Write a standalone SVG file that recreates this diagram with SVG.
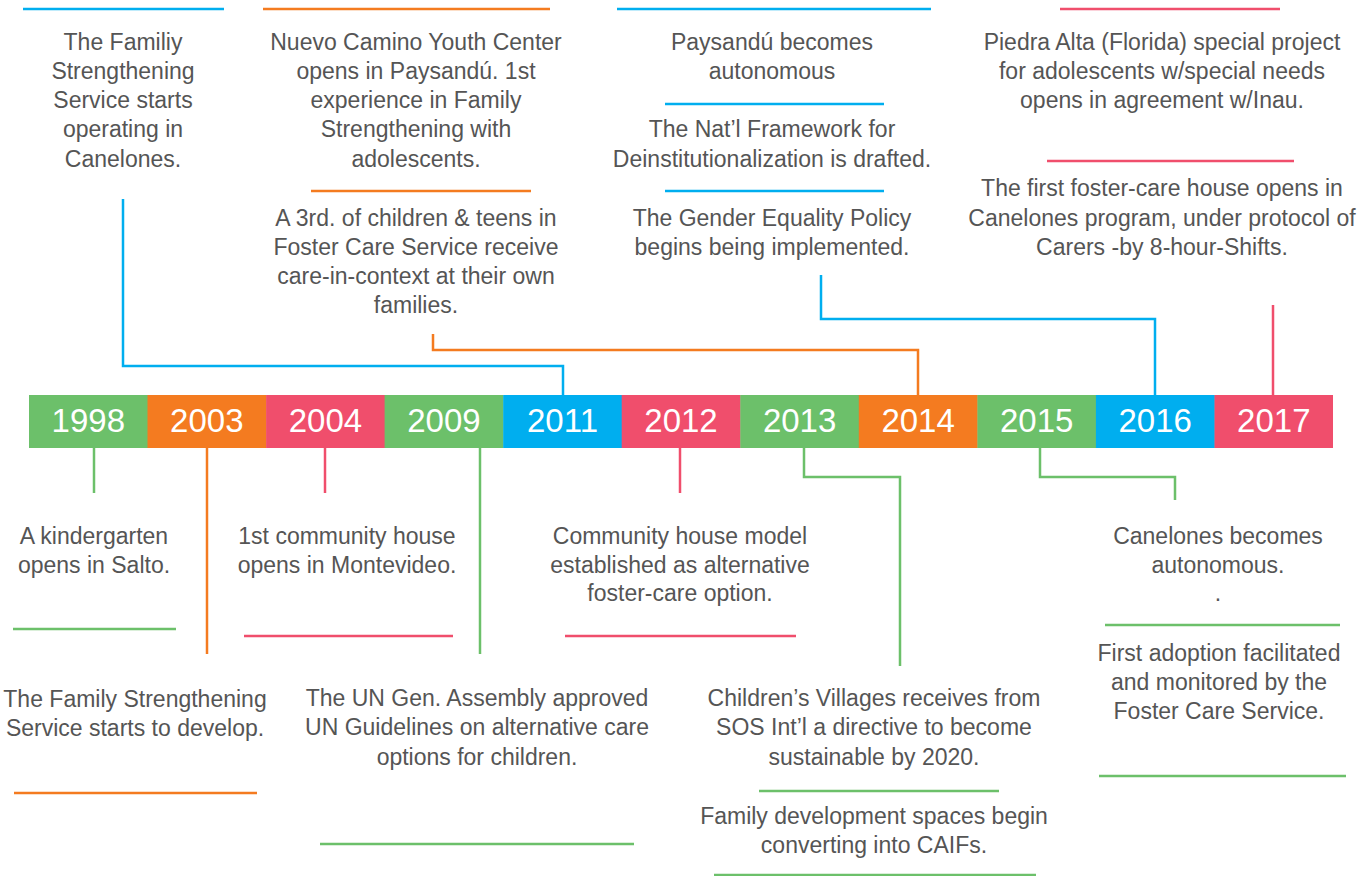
<svg xmlns="http://www.w3.org/2000/svg" width="1360" height="876" viewBox="0 0 1360 876">
  <style>
    .txt { font-family: "Liberation Sans", Arial, sans-serif; font-size: 23px; fill: #555555; text-anchor: middle; }
    .yr { font-family: "Liberation Sans", Arial, sans-serif; font-size: 33px; fill: #ffffff; text-anchor: middle; }
    .sep, .con { fill: none; stroke-width: 2.5; }
    .g { stroke: #6cc06a; fill: none; }
    .o { stroke: #f47b20; fill: none; }
    .p { stroke: #f04e6c; fill: none; }
    .b { stroke: #00aeef; fill: none; }
    .fg { fill: #6cc06a; }
    .fo { fill: #f47b20; }
    .fp { fill: #f04e6c; }
    .fb { fill: #00aeef; }
  </style>
  <rect width="1360" height="876" fill="#ffffff"/>

  <!-- year bar -->
  <g id="yearbar">
    <rect class="fg" x="29" y="395" width="119" height="53"/>
    <rect class="fo" x="147.5" y="395" width="119" height="53"/>
    <rect class="fp" x="266.1" y="395" width="119" height="53"/>
    <rect class="fg" x="384.6" y="395" width="119" height="53"/>
    <rect class="fb" x="503.2" y="395" width="119" height="53"/>
    <rect class="fp" x="621.7" y="395" width="119" height="53"/>
    <rect class="fg" x="740.3" y="395" width="119" height="53"/>
    <rect class="fo" x="858.8" y="395" width="119" height="53"/>
    <rect class="fg" x="977.4" y="395" width="119" height="53"/>
    <rect class="fb" x="1095.9" y="395" width="119" height="53"/>
    <rect class="fp" x="1214.5" y="395" width="118.5" height="53"/>
    <text class="yr" x="88.3" y="432">1998</text>
    <text class="yr" x="206.8" y="432">2003</text>
    <text class="yr" x="325.4" y="432">2004</text>
    <text class="yr" x="443.9" y="432">2009</text>
    <text class="yr" x="562.5" y="432">2011</text>
    <text class="yr" x="681" y="432">2012</text>
    <text class="yr" x="799.6" y="432">2013</text>
    <text class="yr" x="918.1" y="432">2014</text>
    <text class="yr" x="1036.7" y="432">2015</text>
    <text class="yr" x="1155.2" y="432">2016</text>
    <text class="yr" x="1273.8" y="432">2017</text>
  </g>

  <!-- connectors from years to events -->
  <g id="connectors" class="con">
    <polyline class="b" stroke-width="2.5" points="123,199 123,366 563,366 563,395"/>
    <polyline class="o" stroke-width="2.5" points="433,334 433,350 918,350 918,395"/>
    <polyline class="b" stroke-width="2.5" points="821,275 821,319 1155,319 1155,395"/>
    <polyline class="p" stroke-width="2.5" points="1273,305 1273,395"/>
    <polyline class="g" stroke-width="2.5" points="94,448 94,493"/>
    <polyline class="o" stroke-width="2.5" points="207,448 207,654"/>
    <polyline class="p" stroke-width="2.5" points="325,448 325,493"/>
    <polyline class="g" stroke-width="2.5" points="480,448 480,654"/>
    <polyline class="p" stroke-width="2.5" points="680,448 680,493"/>
    <polyline class="g" stroke-width="2.5" points="804,448 804,477 900,477 900,666"/>
    <polyline class="g" stroke-width="2.5" points="1040,448 1040,477 1175,477 1175,500"/>
  </g>

  <!-- events above the bar -->
  <g id="ev-2011-family-strengthening">
    <line class="b" stroke-width="2.5" x1="23" y1="9" x2="224" y2="9"/>
    <text class="txt"><tspan x="123" y="50">The Familiy</tspan><tspan x="123" y="79">Strengthening</tspan><tspan x="123" y="108">Service starts</tspan><tspan x="123" y="137">operating in</tspan><tspan x="123" y="167">Canelones.</tspan></text>
  </g>
  <g id="ev-2014-nuevo-camino">
    <line class="o" stroke-width="2.5" x1="263" y1="9" x2="550" y2="9"/>
    <text class="txt"><tspan x="416" y="50">Nuevo Camino Youth Center</tspan><tspan x="416" y="79">opens in Paysandú. 1st</tspan><tspan x="416" y="108">experience in Family</tspan><tspan x="416" y="137">Strengthening with</tspan><tspan x="416" y="167">adolescents.</tspan></text>
  </g>
  <g id="ev-2014-care-in-context">
    <line class="o" stroke-width="2.5" x1="311" y1="191" x2="531" y2="191"/>
    <text class="txt"><tspan x="416" y="226">A 3rd. of children &amp; teens in</tspan><tspan x="416" y="255">Foster Care Service receive</tspan><tspan x="416" y="284">care-in-context at their own</tspan><tspan x="416" y="313">families.</tspan></text>
  </g>
  <g id="ev-2016-paysandu">
    <line class="b" stroke-width="2.5" x1="617" y1="9" x2="931" y2="9"/>
    <text class="txt"><tspan x="772" y="50">Paysandú becomes</tspan><tspan x="772" y="79">autonomous</tspan></text>
  </g>
  <g id="ev-2016-framework">
    <line class="b" stroke-width="2.5" x1="665" y1="104" x2="884" y2="104"/>
    <text class="txt"><tspan x="772" y="137">The Nat’l Framework for</tspan><tspan x="772" y="167">Deinstitutionalization is drafted.</tspan></text>
  </g>
  <g id="ev-2016-gender">
    <line class="b" stroke-width="2.5" x1="665" y1="191" x2="884" y2="191"/>
    <text class="txt"><tspan x="772" y="226">The Gender Equality Policy</tspan><tspan x="772" y="255">begins being implemented.</tspan></text>
  </g>
  <g id="ev-2017-piedra-alta">
    <line class="p" stroke-width="2.5" x1="1060" y1="9" x2="1280" y2="9"/>
    <text class="txt"><tspan x="1162" y="50">Piedra Alta (Florida) special project</tspan><tspan x="1162" y="79">for adolescents w/special needs</tspan><tspan x="1162" y="108">opens in agreement w/Inau.</tspan></text>
  </g>
  <g id="ev-2017-foster-house">
    <line class="p" stroke-width="2.5" x1="1047" y1="161" x2="1294" y2="161"/>
    <text class="txt"><tspan x="1162" y="196">The first foster-care house opens in</tspan><tspan x="1162" y="226">Canelones program, under protocol of</tspan><tspan x="1162" y="255">Carers -by 8-hour-Shifts.</tspan></text>
  </g>

  <!-- events below the bar -->
  <g id="ev-1998-kindergarten">
    <text class="txt"><tspan x="94" y="544">A kindergarten</tspan><tspan x="94" y="573">opens in Salto.</tspan></text>
    <line class="g" stroke-width="2.5" x1="13" y1="629" x2="176" y2="629"/>
  </g>
  <g id="ev-2003-family-strengthening">
    <text class="txt"><tspan x="135" y="707">The Family Strengthening</tspan><tspan x="135" y="736">Service starts to develop.</tspan></text>
    <line class="o" stroke-width="2.5" x1="14" y1="793" x2="257" y2="793"/>
  </g>
  <g id="ev-2004-community-house">
    <text class="txt"><tspan x="347" y="544">1st community house</tspan><tspan x="347" y="573">opens in Montevideo.</tspan></text>
    <line class="p" stroke-width="2.5" x1="244" y1="636" x2="453" y2="636"/>
  </g>
  <g id="ev-2009-un-guidelines">
    <text class="txt"><tspan x="477" y="706">The UN Gen. Assembly approved</tspan><tspan x="477" y="735">UN Guidelines on alternative care</tspan><tspan x="477" y="765">options for children.</tspan></text>
    <line class="g" stroke-width="2.5" x1="320" y1="844" x2="634" y2="844"/>
  </g>
  <g id="ev-2012-community-model">
    <text class="txt"><tspan x="680" y="544">Community house model</tspan><tspan x="680" y="573">established as alternative</tspan><tspan x="680" y="601">foster-care option.</tspan></text>
    <line class="p" stroke-width="2.5" x1="565" y1="636" x2="796" y2="636"/>
  </g>
  <g id="ev-2013-sustainable">
    <text class="txt"><tspan x="874" y="706">Children’s Villages receives from</tspan><tspan x="874" y="735">SOS Int’l a directive to become</tspan><tspan x="874" y="765">sustainable by 2020.</tspan></text>
    <line class="g" stroke-width="2.5" x1="759" y1="791" x2="999" y2="791"/>
  </g>
  <g id="ev-2013-caifs">
    <text class="txt"><tspan x="874" y="824">Family development spaces begin</tspan><tspan x="874" y="853">converting into CAIFs.</tspan></text>
    <line class="g" stroke-width="2.5" x1="714" y1="875" x2="1036" y2="875"/>
  </g>
  <g id="ev-2015-canelones">
    <text class="txt"><tspan x="1218" y="544">Canelones becomes</tspan><tspan x="1218" y="573">autonomous.</tspan><tspan x="1218" y="601">.</tspan></text>
    <line class="g" stroke-width="2.5" x1="1105" y1="625" x2="1340" y2="625"/>
  </g>
  <g id="ev-2015-adoption">
    <text class="txt"><tspan x="1219" y="661">First adoption facilitated</tspan><tspan x="1219" y="690">and monitored by the</tspan><tspan x="1219" y="719">Foster Care Service.</tspan></text>
    <line class="g" stroke-width="2.5" x1="1099" y1="776" x2="1346" y2="776"/>
  </g>
</svg>
